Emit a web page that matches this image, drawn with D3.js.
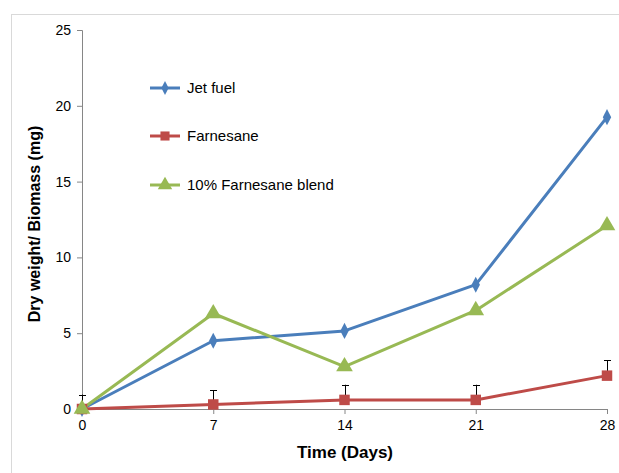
<!DOCTYPE html>
<html><head><meta charset="utf-8">
<script src="https://cdn.jsdelivr.net/npm/d3@7"></script>
<style>body{margin:0;background:#fff}svg{display:block}</style>
</head><body><svg id="c" width="619" height="473"></svg>
<script>
const days = [0, 7, 14, 21, 28];
const jetFuel = [0, 4.5, 5.15, 8.2, 19.25];
const farnesane = [0, 0.3, 0.6, 0.6, 2.2];
const farnesaneErr = [0.95, 0.95, 1.0, 1.0, 1.0];
const blend = [0, 6.3, 2.8, 6.5, 12.1];
const yTicks = [0, 5, 10, 15, 20, 25];
const seriesNames = ["Jet fuel", "Farnesane", "10% Farnesane blend"];
const colors = ["#4a7ebb", "#be4b48", "#98b954"];

const svg = d3.select("#c");
svg.append("rect").attr("x",11.5).attr("y",14.5).attr("width",700).attr("height",600)
  .attr("fill","#fff").attr("stroke","#d9d9d9").attr("stroke-width",1);

const x = d3.scaleLinear().domain([0,28]).range([82,607]);
const y = d3.scaleLinear().domain([0,25]).range([409,30]);

const gy = svg.append("g").attr("transform","translate(82,0)")
  .call(d3.axisLeft(y).tickValues(yTicks).tickSize(5).tickPadding(6));
const gx = svg.append("g").attr("transform","translate(0,409)")
  .call(d3.axisBottom(x).tickValues(days).tickSize(5).tickPadding(4));
[gx,gy].forEach(g=>{
  g.select(".domain").attr("stroke","#868686");
  g.selectAll(".tick line").attr("stroke","#868686");
  g.selectAll("text").attr("font-family","Liberation Sans, Arial, sans-serif").attr("font-size",14).attr("fill","#000");
});
gx.selectAll("text").attr("dy","0.85em");

// error bars (upper only)
const eb = svg.append("g").attr("stroke","#000").attr("stroke-width",1);
days.forEach((d,i)=>{
  const xx = Math.round(x(d))+0.5;
  eb.append("line").attr("x1",xx).attr("x2",xx).attr("y1",y(farnesane[i])).attr("y2",y(farnesane[i]+farnesaneErr[i]));
  eb.append("line").attr("x1",xx-3.5).attr("x2",xx+3.5).attr("y1",Math.round(y(farnesane[i]+farnesaneErr[i]))+0.5).attr("y2",Math.round(y(farnesane[i]+farnesaneErr[i]))+0.5);
});

const data = [jetFuel, farnesane, blend];
const symbols = [d3.symbolDiamond, d3.symbolSquare, d3.symbolTriangle];
const sizes = [75, 110, 120];
const line = d3.line().x((d,i)=>x(days[i])).y(d=>y(d));
data.forEach((vals,k)=>{
  svg.append("path").datum(vals).attr("d",line).attr("fill","none")
    .attr("stroke",colors[k]).attr("stroke-width",3).attr("stroke-linejoin","round");
});
data.forEach((vals,k)=>{
  svg.append("g").selectAll("path").data(vals).join("path")
    .attr("d",d3.symbol().type(symbols[k]).size(sizes[k]))
    .attr("transform",(d,i)=>`translate(${x(days[i])},${y(d)})${k===0?" scale(0.9,1)":""}`)
    .attr("fill",colors[k]);
});

// legend
const legY = [88, 136, 185];
seriesNames.forEach((n,k)=>{
  const g = svg.append("g").attr("transform",`translate(0,${legY[k]})`);
  g.append("line").attr("x1",150).attr("x2",180).attr("y1",0).attr("y2",0).attr("stroke",colors[k]).attr("stroke-width",3);
  g.append("path").attr("d",d3.symbol().type(symbols[k]).size(sizes[k]*0.75)).attr("transform",`translate(165,0)${k===0?" scale(0.9,1)":""}`).attr("fill",colors[k]);
  g.append("text").attr("x",187).attr("y",5).attr("font-family","Liberation Sans, Arial, sans-serif").attr("font-size",15).attr("fill","#000").text(n);
});

svg.append("text").attr("x",345).attr("y",458).attr("text-anchor","middle")
  .attr("font-family","Liberation Sans, Arial, sans-serif").attr("font-weight","bold").attr("font-size",17).text("Time (Days)");
svg.append("text").attr("transform","translate(40,224) rotate(-90)").attr("text-anchor","middle")
  .attr("font-family","Liberation Sans, Arial, sans-serif").attr("font-weight","bold").attr("font-size",16).text("Dry weight/ Biomass (mg)");
</script></body></html>
